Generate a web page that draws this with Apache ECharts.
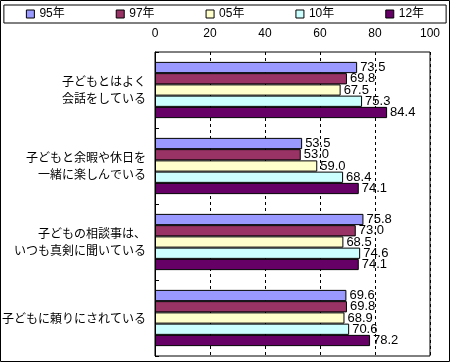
<!DOCTYPE html>
<html><head><meta charset="utf-8">
<script src="https://cdn.jsdelivr.net/npm/echarts@6/dist/echarts.min.js"></script>
<style>html,body{margin:0;padding:0;background:#fff}#c{width:450px;height:362px}</style>
</head><body><div id="c"></div>
<script>
const categories = ['子どもとはよく\n会話をしている', '子どもと余暇や休日を\n一緒に楽しんでいる', '子どもの相談事は、\nいつも真剣に聞いている', '子どもに頼りにされている'];
const seriesNames = ['95年', '97年', '05年', '10年', '12年'];
const colors = ['#9999FF', '#993366', '#FFFFCC', '#CCFFFF', '#660066'];
const v95 = [73.5, 53.5, 75.8, 69.6];
const v97 = [69.8, 53.0, 73.0, 69.8];
const v05 = [67.5, 59.0, 68.5, 68.9];
const v10 = [75.3, 68.4, 74.6, 70.6];
const v12 = [84.4, 74.1, 74.1, 78.2];
const values = [v95, v97, v05, v10, v12];
const xTicks = [0, 20, 40, 60, 80, 100];

const font = 'Liberation Sans, Noto Sans CJK JP, sans-serif';
const chart = echarts.init(document.getElementById('c'));
chart.setOption({
  animation: false,
  textStyle: {fontFamily: font, color: '#000'},
  legend: {
    top: 5, left: 'center',
    data: seriesNames,
    itemWidth: 8, itemHeight: 8, itemGap: 51,
    icon: 'rect',
    borderColor: '#000', borderWidth: 1,
    padding: [3, 22],
    textStyle: {fontSize: 12, color: '#000', fontFamily: font},
    itemStyle: {borderColor: '#000', borderWidth: 1}
  },
  grid: {left: 155, right: 20, top: 52, bottom: 6, show: true, borderColor: '#000', borderWidth: 1, outerBoundsMode: 'none', containLabel: false},
  xAxis: {
    type: 'value', position: 'top', min: 0, max: 100, interval: 20,
    axisLine: {show: false}, axisTick: {show: false},
    axisLabel: {fontSize: 12, color: '#000', margin: 12, formatter: v => xTicks.includes(v) ? String(v) : ''},
    splitLine: {show: true, lineStyle: {color: '#000', type: [3, 3], width: 1}}
  },
  yAxis: {
    type: 'category', inverse: true, data: categories,
    axisLine: {show: true, lineStyle: {color: '#000'}},
    axisTick: {show: true, inside: true, length: 4, lineStyle: {color: '#000'}},
    axisLabel: {fontSize: 12, color: '#000', margin: 9, lineHeight: 17, align: 'right', fontFamily: 'Noto Sans CJK JP, sans-serif'}
  },
  series: seriesNames.map((n, i) => ({
    name: n, type: 'bar', data: values[i],
    barGap: '0%', barCategoryGap: '26%',
    itemStyle: {color: colors[i], borderColor: '#000', borderWidth: 1},
    label: {show: true, position: 'right', distance: 3, fontSize: 13, color: '#000', formatter: p => p.value.toFixed(1)}
  })),
  graphic: [{type: 'rect', shape: {x: 0.5, y: 0.5, width: 449, height: 361}, style: {fill: 'none', stroke: '#000', lineWidth: 1}, silent: true}]
});
</script></body></html>
